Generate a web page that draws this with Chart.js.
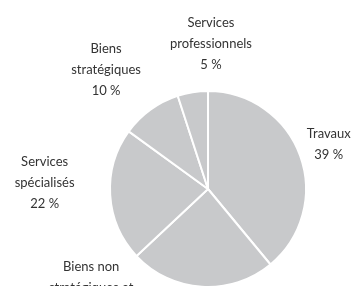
<!DOCTYPE html>
<html>
<head>
<meta charset="utf-8">
<script src="https://cdn.jsdelivr.net/npm/chart.js@4"></script>
<style>
  html, body { margin: 0; padding: 0; background: #ffffff; overflow: hidden; }
  #wrap { width: 354px; height: 300px; position: relative; }
</style>
</head>
<body>
<div id="wrap"><canvas id="c"></canvas></div>
<script>
// Categories (label lines) and values (%)
const categories = [
  ["Travaux"],
  ["Biens non", "stratégiques et"],
  ["Services", "spécialisés"],
  ["Biens", "stratégiques"],
  ["Services", "professionnels"]
];
const values = [39, 24, 22, 10, 5];

// Label anchor offsets (first line centre), in units of pie radius
const labelOffsets = [
  [1.232, -0.566],
  [-1.192, 0.798],
  [-1.667, -0.273],
  [-1.04, -1.434],
  [0.03, -1.697]
];

const outsideLabels = {
  id: 'outsideLabels',
  afterDatasetsDraw(chart) {
    const ctx = chart.ctx;
    const meta = chart.getDatasetMeta(0);
    ctx.save();
    ctx.font = '400 13px Lato';
    ctx.fillStyle = '#333333';
    ctx.textAlign = 'center';
    ctx.textBaseline = 'middle';
    meta.data.forEach((arc, i) => {
      const R = arc.outerRadius;
      const x = arc.x + labelOffsets[i][0] * R;
      const y0 = arc.y + labelOffsets[i][1] * R;
      const lines = categories[i].concat([values[i] + ' %']);
      lines.forEach((t, k) => ctx.fillText(t, x, y0 + k * 21));
    });
    ctx.restore();
  }
};

new Chart(document.getElementById('c'), {
  type: 'pie',
  data: {
    labels: categories.map(c => c.join(' ')),
    datasets: [{
      data: values,
      backgroundColor: '#c8c9cb',
      borderColor: '#ffffff',
      borderWidth: 2
    }]
  },
  options: {
    responsive: true,
    maintainAspectRatio: false,
    animation: false,
    layout: { padding: { top: 90, bottom: 12, left: 102, right: 40 } },
    plugins: { legend: { display: false }, tooltip: { enabled: false } }
  },
  plugins: [outsideLabels]
});
</script>
</body>
</html>
